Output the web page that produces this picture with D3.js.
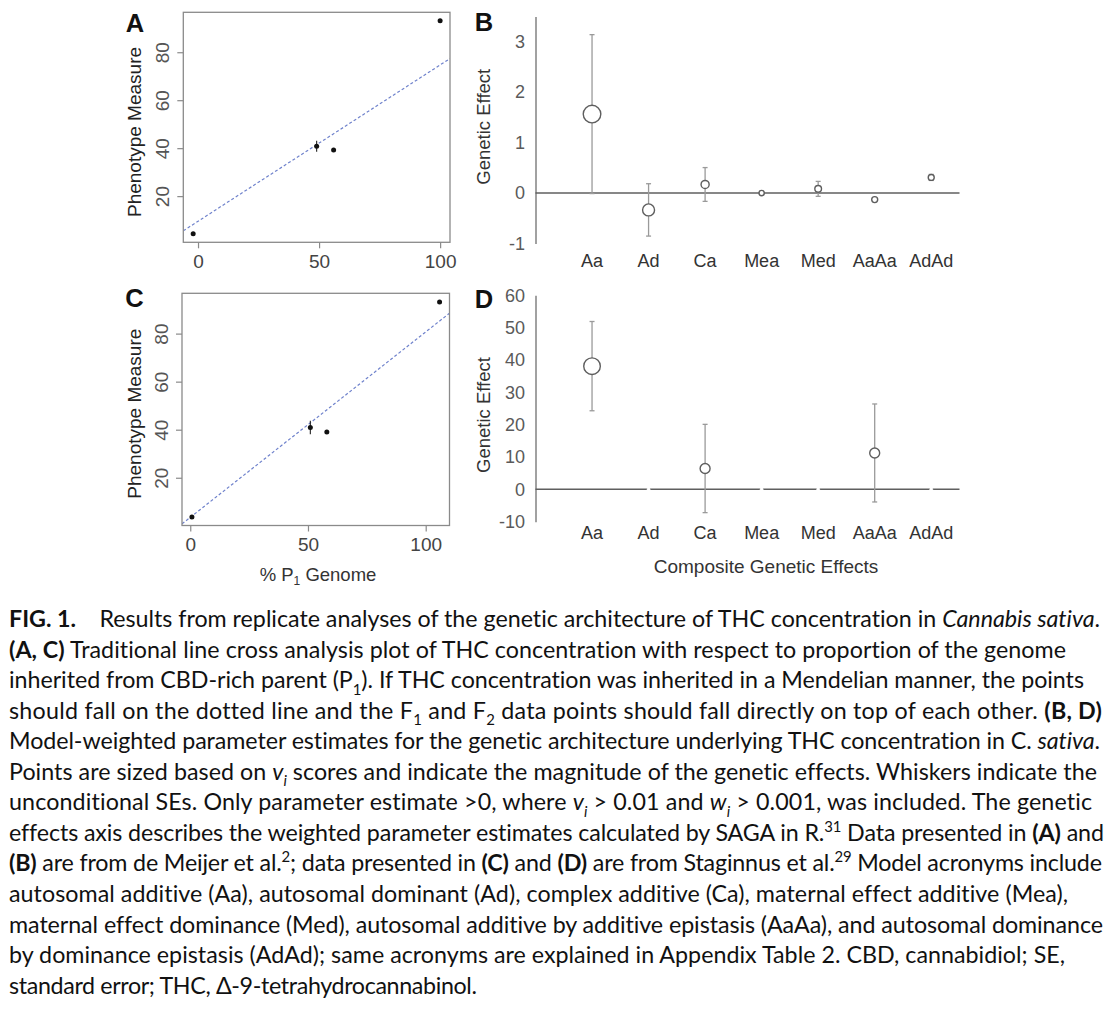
<!DOCTYPE html>
<html><head><meta charset="utf-8">
<script src="https://cdn.jsdelivr.net/npm/d3@7"></script>
<style>body{margin:0;background:#fff} svg{display:block} text{font-variant-ligatures:none;font-feature-settings:"liga" 0}</style>
</head><body>
<svg id="c" width="1116" height="1016"></svg>
<script>
// ---------------- DATA ----------------
// Panel A (line cross, de Meijer et al.)
const lcX_A = [-2, 49, 56, 100];          // % P1 genome
const lcY_A = [4.3, 40.8, 39.2, 93.1];    // phenotype measure
const lcSE_A = [0, 2.3, 0, 0];
const lcLine_A = [[0, 9.5], [100, 74.7]]; // expected additive line
// Panel C (line cross, Staginnus et al.)
const lcX_C = [0.7, 51, 58, 105.9];
const lcY_C = [3.7, 40.9, 39.0, 93.2];
const lcSE_C = [0, 2.8, 0, 0];
const lcLine_C = [[0, 3.5], [100, 80.7]];
const xTicks_AC = [0, 50, 100];
const yTicks_AC = [20, 40, 60, 80];

// Panels B, D (composite genetic effects)
const effects = ["Aa", "Ad", "Ca", "Mea", "Med", "AaAa", "AdAd"];
const est_B = [1.565, -0.334, 0.17, 0.0, 0.083, -0.13, 0.31];
const se_B  = [1.575, 0.519, 0.335, 0, 0.148, 0, 0.06];
const vi_B  = [1.0, 0.68, 0.46, 0.3, 0.38, 0.34, 0.34];
const yTicks_B = [-1, 0, 1, 2, 3];
const est_D = [38.1, 0, 6.45, 0, 0, 11.25, 0];
const se_D  = [13.8, 0, 13.65, 0, 0, 15.15, 0];
const vi_D  = [1.0, 0.18, 0.6, 0.18, 0.18, 0.6, 0.18];
const shown_D = [true, false, true, false, false, true, false];
const yTicks_D = [-10, 0, 10, 20, 30, 40, 50, 60];

// Caption
const captionLines = [
  [["FIG. 1.", "b"], ["\u2003 Results from replicate analyses of the genetic architecture of THC concentration in ", "n"], ["Cannabis sativa", "i"], [".", "n"]],
  [["(A, C)", "b"], [" Traditional line cross analysis plot of THC concentration with respect to proportion of the genome", "n"]],
  [["inherited from CBD-rich parent (P", "n"], ["1", "sub"], ["). If THC concentration was inherited in a Mendelian manner, the points", "n"]],
  [["should fall on the dotted line and the F", "n"], ["1", "sub"], [" and F", "n"], ["2", "sub"], [" data points should fall directly on top of each other. ", "n"], ["(B, D)", "b"]],
  [["Model-weighted parameter estimates for the genetic architecture underlying THC concentration in C. ", "n"], ["sativa", "i"], [".", "n"]],
  [["Points are sized based on ", "n"], ["v", "i"], ["i", "isub"], [" scores and indicate the magnitude of the genetic effects. Whiskers indicate the", "n"]],
  [["unconditional SEs. Only parameter estimate >0, where ", "n"], ["v", "i"], ["i", "isub"], [" > 0.01 and ", "n"], ["w", "i"], ["i", "isub"], [" > 0.001, was included. The genetic", "n"]],
  [["effects axis describes the weighted parameter estimates calculated by SAGA in R.", "n"], ["31", "sup"], [" Data presented in ", "n"], ["(A)", "b"], [" and", "n"]],
  [["(B)", "b"], [" are from de Meijer et al.", "n"], ["2", "sup"], ["; data presented in ", "n"], ["(C)", "b"], [" and ", "n"], ["(D)", "b"], [" are from Staginnus et al.", "n"], ["29", "sup"], [" Model acronyms include", "n"]],
  [["autosomal additive (Aa), autosomal dominant (Ad), complex additive (Ca), maternal effect additive (Mea),", "n"]],
  [["maternal effect dominance (Med), autosomal additive by additive epistasis (AaAa), and autosomal dominance", "n"]],
  [["by dominance epistasis (AdAd); same acronyms are explained in Appendix Table 2. CBD, cannabidiol; SE,", "n"]],
  [["standard error; THC, \u0394-9-tetrahydrocannabinol.", "n"]]
];

// ---------------- DRAWING ----------------
const svg = d3.select("#c");
const FONT = "'Liberation Sans', Arial, Helvetica, sans-serif";
const fmt = d => String(d);

function panelLetter(txt, x, y) {
  svg.append("text").attr("x", x).attr("y", y).attr("text-anchor", "middle")
    .style("font-family", FONT).style("font-weight", "700").style("font-size", "25.5px")
    .attr("fill", "#111").text(txt);
}

function linePanel(xs, ys, se, line, box, id, ytitleY, xtitle) {
  const pad = e => { const d = e[1] - e[0]; return [e[0] - 0.04 * d, e[1] + 0.04 * d]; };
  const x = d3.scaleLinear(pad(d3.extent(xs)), [box.x0, box.x1]);
  const y = d3.scaleLinear(pad(d3.extent(ys)), [box.y1, box.y0]);
  const g = svg.append("g");

  svg.append("clipPath").attr("id", id).append("rect")
    .attr("x", box.x0).attr("y", box.y0).attr("width", box.x1 - box.x0).attr("height", box.y1 - box.y0);

  // expected line
  const slope = (line[1][1] - line[0][1]) / (line[1][0] - line[0][0]);
  const yAt = v => line[0][1] + slope * (v - line[0][0]);
  const xd = x.domain();
  g.append("line").attr("clip-path", `url(#${id})`)
    .attr("x1", x(xd[0])).attr("y1", y(yAt(xd[0])))
    .attr("x2", x(xd[1])).attr("y2", y(yAt(xd[1])))
    .attr("stroke", "#6f82cc").attr("stroke-width", 1.2).attr("stroke-dasharray", "3,2.2");

  // box
  g.append("rect").attr("x", box.x0).attr("y", box.y0)
    .attr("width", box.x1 - box.x0).attr("height", box.y1 - box.y0)
    .attr("fill", "none").attr("stroke", "#8a8a8a").attr("stroke-width", 1.3);

  // axes
  const ax = g.append("g").attr("transform", `translate(0,${box.y1})`)
    .call(d3.axisBottom(x).tickValues(xTicks_AC).tickSize(6).tickPadding(6.5).tickFormat(fmt));
  ax.select(".domain").remove();
  ax.selectAll("line").attr("stroke", "#8a8a8a").attr("stroke-width", 1.2);
  ax.selectAll("text").style("font-family", FONT).style("font-size", "19px").attr("fill", "#444");

  const ay = g.append("g").attr("transform", `translate(${box.x0},0)`)
    .call(d3.axisLeft(y).tickValues(yTicks_AC).tickSize(6).tickFormat(fmt));
  ay.select(".domain").remove();
  ay.selectAll("line").attr("stroke", "#8a8a8a").attr("stroke-width", 1.2);
  ay.selectAll("text").attr("x", 0).attr("y", 0).attr("dy", "0.35em")
    .attr("text-anchor", "middle").attr("transform", "translate(-21,0) rotate(-90)")
    .style("font-family", FONT).style("font-size", "19px").attr("fill", "#555");

  // error bars
  const idx = d3.range(xs.length);
  g.selectAll(".eb").data(idx.filter(i => se[i] > 0)).join("line")
    .attr("x1", i => x(xs[i])).attr("x2", i => x(xs[i]))
    .attr("y1", i => y(ys[i] - se[i])).attr("y2", i => y(ys[i] + se[i]))
    .attr("stroke", "#222").attr("stroke-width", 1.1);
  // points
  g.selectAll(".pt").data(idx).join("circle")
    .attr("cx", i => x(xs[i])).attr("cy", i => y(ys[i])).attr("r", 2.5).attr("fill", "#111");

  // titles
  g.append("text").attr("transform", `translate(134,${ytitleY}) rotate(-90)`)
    .attr("dy", "0.35em").attr("text-anchor", "middle")
    .style("font-family", FONT).style("font-size", "19px").attr("fill", "#222").text("Phenotype Measure");
  if (xtitle) {
    const t = g.append("text").attr("x", 318).attr("y", 581).attr("text-anchor", "middle")
      .style("font-family", FONT).style("font-size", "18.5px").attr("fill", "#333");
    t.append("tspan").text("% P");
    t.append("tspan").attr("dy", 4).style("font-size", "12px").text("1");
    t.append("tspan").attr("dy", -4).text(" Genome");
  }
}

function effectPanel(est, se, vi, shown, yDomain, yRange, yTicks, rMax, ytitleY, catY, xtitle) {
  const x0 = 535.5, x1 = 959.5, step = (x1 - x0) / 7.5;
  const x = d3.scalePoint().domain(effects).range([x0 + step, x1 - step / 2]);
  const y = d3.scaleLinear(yDomain, yRange);
  const r = d3.scaleLinear([0, 1], [0, rMax]);
  const g = svg.append("g");

  const ay = g.append("g").attr("transform", `translate(${x0},0)`)
    .call(d3.axisLeft(y).tickValues(yTicks).tickSize(0).tickSizeOuter(0).tickPadding(10.5).tickFormat(fmt));
  ay.select(".domain").attr("stroke", "#8a8a8a").attr("stroke-width", 1.6);
  ay.selectAll("text").style("font-family", FONT).style("font-size", "18px").attr("fill", "#5a5a5a");

  g.append("line").attr("x1", x0).attr("x2", x1).attr("y1", y(0)).attr("y2", y(0))
    .attr("stroke", "#5f5f5f").attr("stroke-width", 1.5);

  const idx = d3.range(effects.length);
  const eb = g.selectAll(".eb").data(idx.filter(i => se[i] > 0)).join("g").attr("stroke", "#9a9a9a").attr("stroke-width", 1.3);
  eb.append("line").attr("x1", i => x(effects[i])).attr("x2", i => x(effects[i]))
    .attr("y1", i => y(est[i] - se[i])).attr("y2", i => y(est[i] + se[i]));
  eb.append("line").attr("x1", i => x(effects[i]) - 2.5).attr("x2", i => x(effects[i]) + 2.5)
    .attr("y1", i => y(est[i] - se[i])).attr("y2", i => y(est[i] - se[i]));
  eb.append("line").attr("x1", i => x(effects[i]) - 2.5).attr("x2", i => x(effects[i]) + 2.5)
    .attr("y1", i => y(est[i] + se[i])).attr("y2", i => y(est[i] + se[i]));

  g.selectAll(".pt").data(idx).join("circle")
    .attr("cx", i => x(effects[i])).attr("cy", i => y(est[i])).attr("r", i => r(vi[i]))
    .attr("fill", "#fff").attr("stroke", i => shown[i] ? "#5e5e5e" : "#fff")
    .attr("stroke-width", i => shown[i] ? 1.4 : 0.6);

  g.selectAll(".cat").data(effects).join("text")
    .attr("x", d => x(d)).attr("y", catY).attr("text-anchor", "middle")
    .style("font-family", FONT).style("font-size", "18px").attr("fill", "#333").text(d => d);

  g.append("text").attr("transform", `translate(484,${ytitleY}) rotate(-90)`)
    .attr("dy", "0.35em").attr("text-anchor", "middle")
    .style("font-family", FONT).style("font-size", "18.5px").attr("fill", "#333").text("Genetic Effect");
  if (xtitle) {
    g.append("text").attr("x", 766).attr("y", 573.3).attr("text-anchor", "middle")
      .style("font-family", FONT).style("font-size", "19px").attr("fill", "#333").text(xtitle);
  }
}

linePanel(lcX_A, lcY_A, lcSE_A, lcLine_A, {x0: 183.3, x1: 450, y0: 12.3, y1: 242.3}, "clipA", 132, false);
linePanel(lcX_C, lcY_C, lcSE_C, lcLine_C, {x0: 182, x1: 449.5, y0: 293.3, y1: 525.5}, "clipC", 413.7, true);
effectPanel(est_B, se_B, vi_B, effects.map(() => true), [-1, 3.5], [243.5, 16.5], yTicks_B, 8.8, 126.7, 266.7, null);
effectPanel(est_D, se_D, vi_D, shown_D, [-10, 60], [521.7, 295.3], yTicks_D, 8.3, 415, 539.3, "Composite Genetic Effects");

panelLetter("A", 135, 31.7);
panelLetter("B", 484, 30.7);
panelLetter("C", 134.5, 307.3);
panelLetter("D", 484, 308.3);

// ---------------- CAPTION ----------------
const capFont = "Lato, 'Open Sans', sans-serif";
const capX = 9, capY0 = 627, capDY = 30.55;
// right end of each caption line in the original layout (ragged right)
const capRight = [1100, 1066, 1084, 1102, 1100, 1097, 1092, 1104, 1102, 1068, 1103, 1065, 477];
const capTexts = captionLines.map((segs, i) =>
  svg.append("text").attr("x", capX).attr("y", capY0 + i * capDY)
    .style("font-family", capFont).style("white-space", "pre").attr("fill", "#111"));

function fillCaption(size) {
  capTexts.forEach((t, i) => {
    t.selectAll("*").remove();
    t.style("font-size", size + "px");
    let shift = 0;
    captionLines[i].forEach(([txt, st]) => {
      const ts = t.append("tspan").text(txt);
      let s = 0;
      if (st === "b") ts.style("font-weight", "700");
      if (st === "i" || st === "isub") ts.style("font-style", "italic");
      if (st === "sub" || st === "isub") { s = 0.28 * size; ts.style("font-size", (0.64 * size) + "px"); }
      if (st === "sup") { s = -0.4 * size; ts.style("font-size", (0.64 * size) + "px"); }
      if (s !== shift) ts.attr("dy", s - shift);
      shift = s;
    });
  });
}
let capSize = 20;
fillCaption(capSize);
const ratio = d3.mean(capTexts.slice(0, 12), (t, i) => (capRight[i] - capX) / t.node().getComputedTextLength());
capSize = capSize * ratio;
fillCaption(capSize);
capTexts.forEach((t, i) => {
  t.attr("textLength", capRight[i] - capX).attr("lengthAdjust", "spacing");
});
</script>
</body></html>
